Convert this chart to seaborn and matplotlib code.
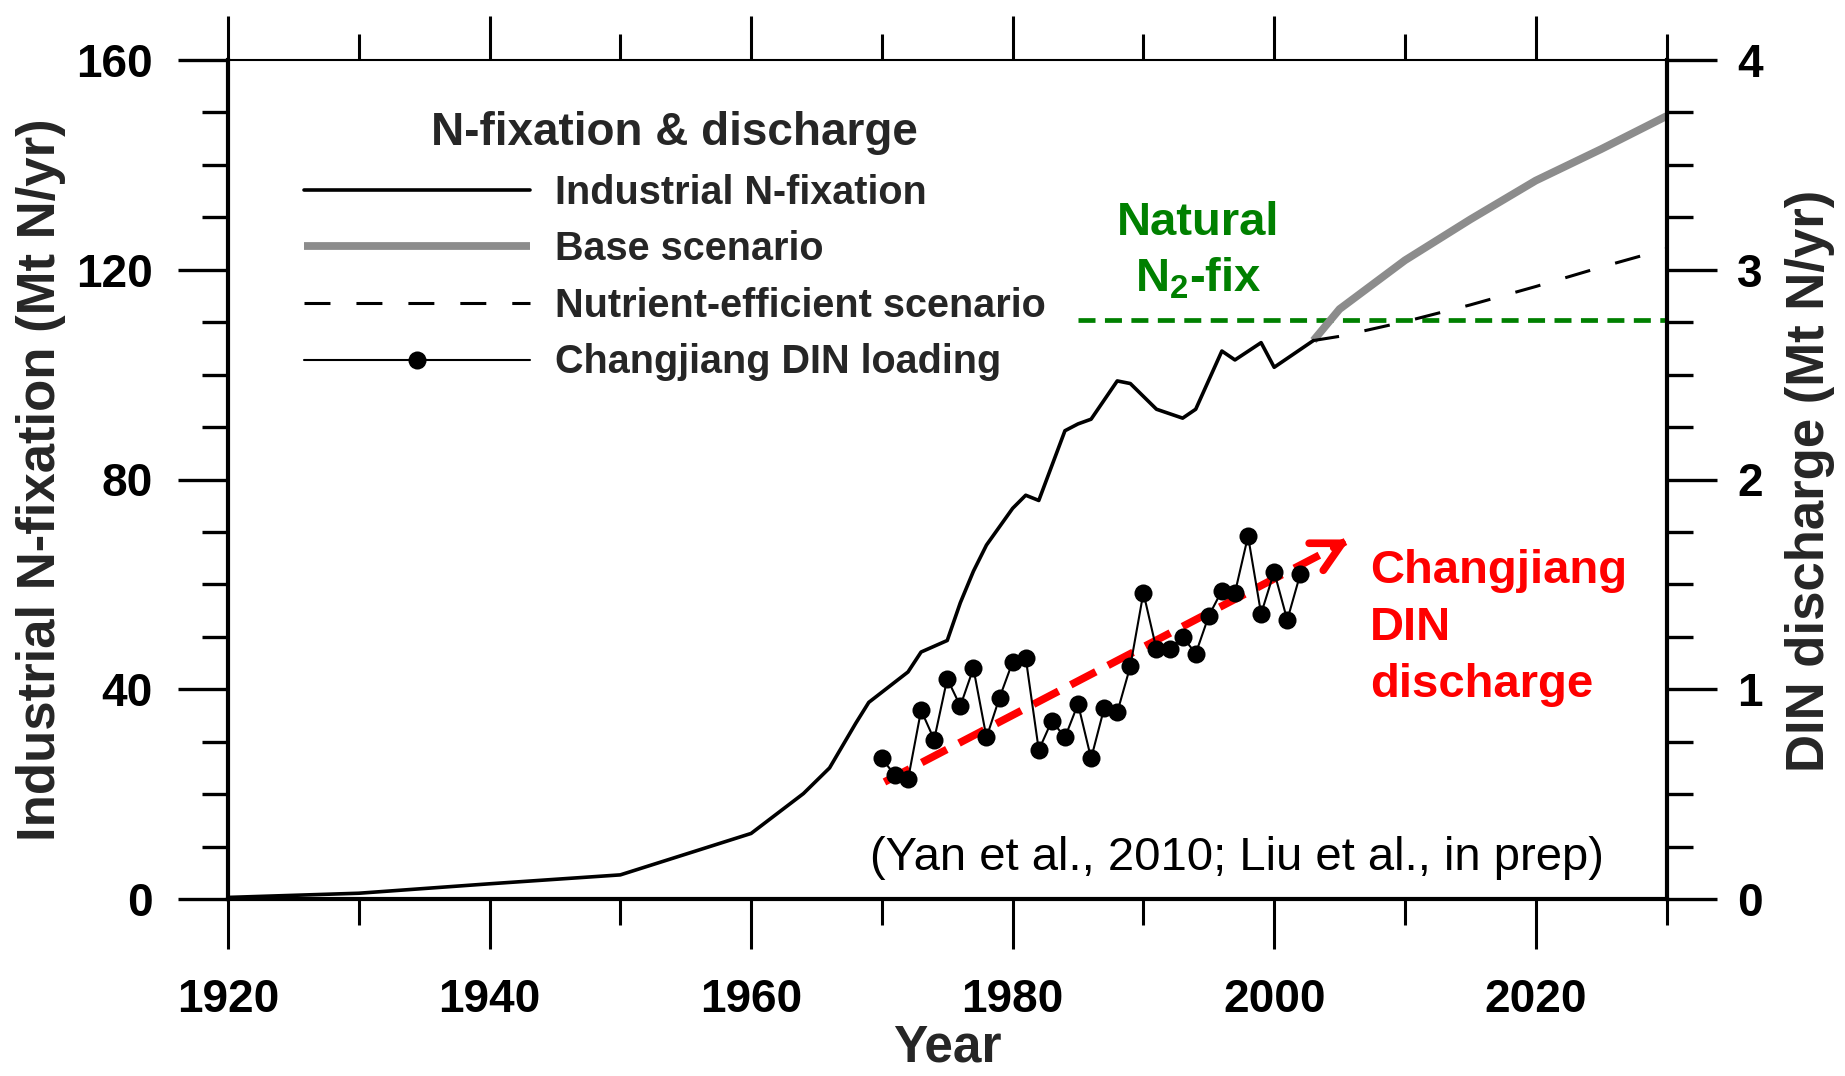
import matplotlib
matplotlib.use("Agg")
import matplotlib.pyplot as plt
from matplotlib.ticker import MultipleLocator
import pandas as pd
import seaborn as sns

# Industrial N-fixation (Mt N/yr)
fix_years = [1920, 1930, 1935, 1940, 1950, 1960, 1964, 1966, 1968, 1969, 1972, 1973,
             1975, 1976, 1977, 1978, 1979, 1980, 1981, 1982, 1984, 1985, 1986, 1988,
             1989, 1991, 1993, 1994, 1996, 1997, 1999, 2000, 2003]
fix_values = [0.3, 1.1, 2.0, 2.9, 4.6, 12.5, 20.1, 25.0, 33.5, 37.5, 43.3, 47.1,
              49.3, 56.5, 62.5, 67.5, 71.0, 74.5, 77.0, 76.0, 89.3, 90.6, 91.5, 98.8,
              98.3, 93.4, 91.7, 93.4, 104.5, 102.8, 106.1, 101.4, 106.5]

# Projections (Mt N/yr)
scen_years = [2003, 2005, 2010, 2015, 2020, 2025, 2030]
base_values = [106.5, 112.5, 121.8, 129.6, 137.0, 143.0, 149.3]
efficient_values = [106.5, 107.3, 110.1, 113.3, 116.8, 120.5, 124.0]

# Natural N2 fixation level (Mt N/yr)
natural_years = [1985, 2030]
natural_values = [110.5, 110.5]

# Changjiang DIN loading (Mt N/yr)
din_years = list(range(1970, 2003))
din_values = [0.67, 0.59, 0.57, 0.90, 0.76, 1.05, 0.92, 1.10, 0.77, 0.96, 1.13,
              1.15, 0.71, 0.85, 0.77, 0.93, 0.67, 0.91, 0.89, 1.11, 1.46, 1.19,
              1.19, 1.25, 1.17, 1.35, 1.47, 1.46, 1.73, 1.36, 1.56, 1.33, 1.55]

# DIN trend arrow end points (year, Mt N/yr)
trend_start = (1970.2, 0.558)
trend_end = (2005.75, 1.714)

x_ticks = [1920, 1940, 1960, 1980, 2000, 2020]
left_ticks = [0, 40, 80, 120, 160]
right_ticks = [0, 1, 2, 3, 4]

sns.set_theme(style="ticks")
plt.rcParams["font.family"] = ["Liberation Sans", "DejaVu Sans"]
plt.rcParams["font.weight"] = "bold"
plt.rcParams["mathtext.fontset"] = "custom"
plt.rcParams["mathtext.rm"] = "Liberation Sans:bold"
plt.rcParams["mathtext.bf"] = "Liberation Sans:bold"

W, H = 1845, 1076
fig = plt.figure(figsize=(W / 100, H / 100), dpi=100)
fig.patch.set_facecolor("white")
ax = fig.add_axes([228 / W, 1 - 899 / H, (1666.5 - 228) / W, (899 - 60) / H])
ax.set_facecolor("white")
ax2 = ax.twinx()

fix_df = pd.DataFrame({"year": fix_years, "value": fix_values})
scen_df = pd.DataFrame({"year": scen_years, "base": base_values,
                        "efficient": efficient_values})
nat_df = pd.DataFrame({"year": natural_years, "value": natural_values})
din_df = pd.DataFrame({"year": din_years, "value": din_values})

# natural fixation reference level
sns.lineplot(data=nat_df, x="year", y="value", ax=ax, color="#008000", lw=3.4,
             zorder=2)
ax.lines[-1].set_dashes((3.6, 2.0))
ax.lines[-1].set_dash_capstyle("butt")

sns.lineplot(data=fix_df, x="year", y="value", ax=ax, color="black", lw=2.6,
             zorder=4)
l_ind = ax.lines[-1]
sns.lineplot(data=scen_df, x="year", y="base", ax=ax, color="#8c8c8c", lw=5.6,
             zorder=3)
l_base = ax.lines[-1]
l_base.set_solid_capstyle("butt")
sns.lineplot(data=scen_df, x="year", y="efficient", ax=ax, color="black", lw=2.2,
             zorder=3.5)
l_eff = ax.lines[-1]
l_eff.set_dashes((8.5, 8.5))
l_eff.set_dash_capstyle("butt")

# DIN loading on the right-hand axis
sns.lineplot(data=din_df, x="year", y="value", ax=ax2, color="black", lw=1.5,
             marker="o", markersize=13, markeredgewidth=0, zorder=4)
l_din = ax2.lines[-1]

# dashed red trend arrow
ax2.plot([trend_start[0], trend_end[0] - 0.3], [trend_start[1], trend_end[1] - 0.01],
         color="#ff0000", lw=5.5, dashes=(3.7, 1.8), dash_capstyle="butt", zorder=3)
ax2.annotate("", xy=trend_end, xytext=(trend_end[0] - 1.2, trend_end[1] - 0.039),
             arrowprops=dict(arrowstyle="->,head_length=1.05,head_width=0.55",
                             color="#ff0000", lw=5.5, mutation_scale=20,
                             shrinkA=0, shrinkB=0), zorder=3)

# axes limits and ticks
ax.set_xlim(1920, 2030)
ax.set_ylim(0, 160)
ax2.set_ylim(0, 4)
ax.set_xticks(x_ticks)
ax.set_xticklabels([str(v) for v in x_ticks])
ax.xaxis.set_minor_locator(MultipleLocator(10))
ax.set_yticks(left_ticks)
ax.set_yticklabels([str(v) for v in left_ticks])
ax.yaxis.set_minor_locator(MultipleLocator(10))
ax2.set_yticks(right_ticks)
ax2.set_yticklabels([str(v) for v in right_ticks])
ax2.yaxis.set_minor_locator(MultipleLocator(0.25))
ax.set_xlabel("")
ax.set_ylabel("")
ax2.set_ylabel("")

ax.tick_params(axis="x", which="both", bottom=True, top=True, direction="out",
               width=2.2, color="black", labelsize=33, pad=21)
ax.tick_params(axis="x", which="major", length=36)
ax.tick_params(axis="x", which="minor", length=19)
ax.tick_params(axis="y", which="both", left=True, right=False, direction="out",
               width=2.4, color="black", labelsize=33, pad=18)
ax.tick_params(axis="y", which="major", length=36)
ax.tick_params(axis="y", which="minor", length=19)
ax2.tick_params(axis="y", which="both", right=True, left=False, direction="out",
                width=2.4, color="black", labelsize=33, pad=15)
ax2.tick_params(axis="y", which="major", length=36)
ax2.tick_params(axis="y", which="minor", length=19)
for t in ax.xaxis.get_major_ticks():
    t.tick2line.set_markersize(32)
for t in ax.xaxis.get_minor_ticks():
    t.tick2line.set_markersize(19)
for lab in ax.get_xticklabels() + ax.get_yticklabels() + ax2.get_yticklabels():
    lab.set_fontweight("bold")
    lab.set_color("black")

for side in ["left", "bottom"]:
    ax.spines[side].set_linewidth(3)
    ax.spines[side].set_color("black")
ax.spines["top"].set_linewidth(1.5)
ax.spines["top"].set_color("black")
ax.spines["right"].set_visible(False)
for side in ["left", "bottom", "top"]:
    ax2.spines[side].set_visible(False)
ax2.spines["right"].set_linewidth(3)
ax2.spines["right"].set_color("black")

# axis titles
fig.text(41 / W, 1 - 479.5 / H, "Industrial N-fixation (Mt N/yr)", rotation=90,
         ha="center", va="center", fontsize=38, fontweight="bold")
fig.text(1810 / W, 1 - 481 / H, "DIN discharge (Mt N/yr)", rotation=90,
         ha="center", va="center", fontsize=38, fontweight="bold")
fig.text(947 / W, 1 - 1062 / H, "Year", ha="center", va="baseline",
         fontsize=37, fontweight="bold")

# annotations
ax.text(1994.2, 126.6, "Natural", color="#008000", fontsize=34,
        fontweight="bold", ha="center", va="baseline")
ax.text(1994.2, 115.8, r"N$_{\mathbf{2}}$-fix", color="#008000", fontsize=34,
        fontweight="bold", ha="center", va="baseline")
for txt, yv in zip(["Changjiang", "DIN", "discharge"], [60.2, 49.3, 38.5]):
    ax.text(2007.3, yv, txt, color="#ff0000", fontsize=34, fontweight="bold",
            ha="left", va="baseline")
ax.text(1969.1, 5.5, "(Yan et al., 2010; Liu et al., in prep)", color="black",
        fontsize=34, fontweight="normal", ha="left", va="baseline")

# legend
leg = ax2.legend(handles=[l_ind, l_base, l_eff, l_din],
                 labels=["Industrial N-fixation", "Base scenario",
                         "Nutrient-efficient scenario", "Changjiang DIN loading"],
                 title="N-fixation & discharge", loc="upper left",
                 bbox_to_anchor=(304 / W, 1 - 111 / H),
                 bbox_transform=fig.transFigure, frameon=False,
                 prop={"weight": "bold", "size": 28.5},
                 title_fontproperties={"weight": "bold", "size": 33},
                 handlelength=5.7, handletextpad=0.63, labelspacing=0.47,
                 borderpad=0, borderaxespad=0, numpoints=1)
leg.set_zorder(10)

fig.savefig("out.png", dpi=100, facecolor="white")
